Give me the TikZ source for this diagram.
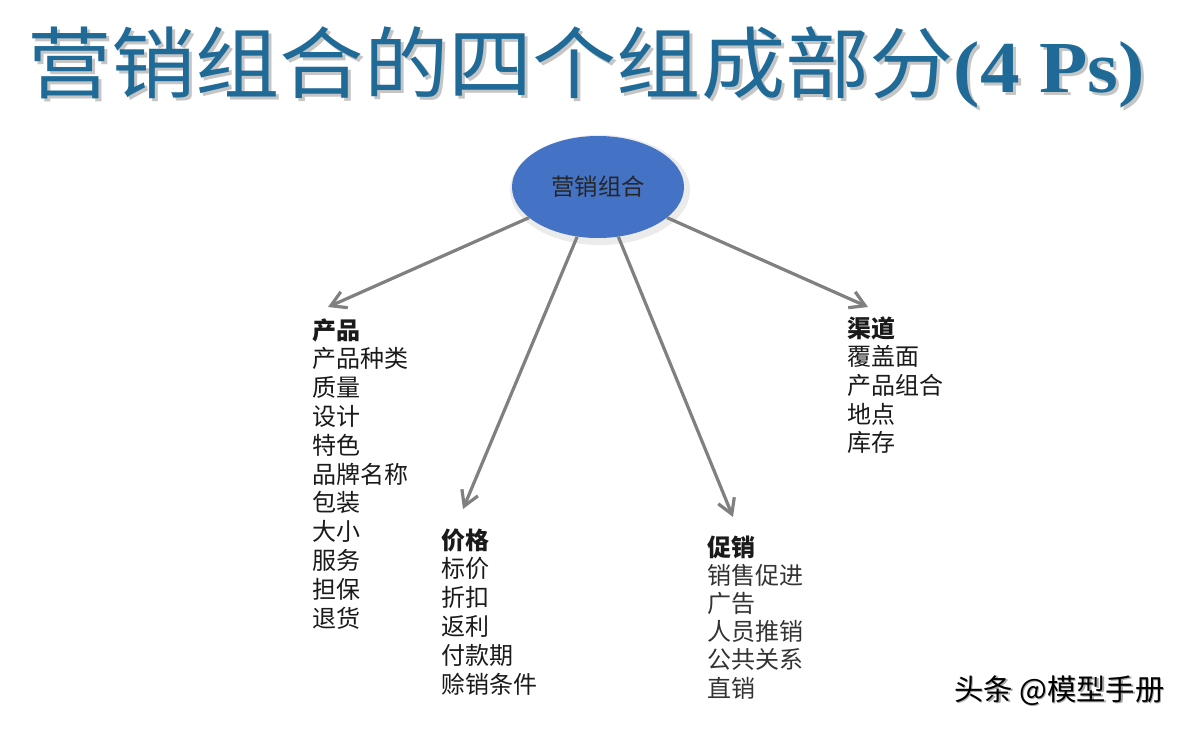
\documentclass[tikz,border=0pt]{standalone}
\usepackage{fontspec}
\usepackage{graphicx}
\usetikzlibrary{arrows.meta,shapes.geometric}
\newfontfamily\cjk{Noto Sans CJK SC}
\newfontfamily\titlelatin{Liberation Serif}
\definecolor{titleblue}{HTML}{1F6A96}
\definecolor{ellblue}{HTML}{4472C4}
\definecolor{arrowgray}{HTML}{808080}
\definecolor{txt}{HTML}{1A1A1A}
\newcommand{\titletext}{\scalebox{1.08}[1]{\cjk\fontsize{58.5pt}{60pt}\selectfont 营销组合的四个组成部分{\titlelatin\bfseries\fontsize{55pt}{57pt}\selectfont (4 Ps)}}}
\tikzset{
  item/.style={anchor=base west, inner sep=0pt, text=txt, font=\cjk\fontsize{18pt}{21pt}\selectfont},
  head/.style={item, font=\cjk\bfseries\fontsize{18pt}{21pt}\selectfont},
  link/.style={draw=arrowgray, line width=2.4pt, -{Straight Barb[length=11pt,width=13pt]}},
}
\begin{document}
\begin{tikzpicture}[x=0.75pt,y=-0.75pt]
\useasboundingbox (0,0) rectangle (1194,728);
\fill[white] (0,0) rectangle (1194,728);
% title
\node[anchor=base west, inner sep=0pt, text=black!45, opacity=0.5] (titleshadow) at (30,95) {\titletext};
\node[anchor=base west, inner sep=0pt, text=titleblue] (title) at (27,92) {\titletext};
% ellipse
\fill[black, opacity=0.08] (600,190) ellipse [x radius=90, y radius=55];
\node[ellipse, fill=ellblue, minimum width=129pt, minimum height=76.5pt, inner sep=0pt, font=\cjk\fontsize{17.5pt}{20pt}\selectfont, text=black!85] (mix) at (598,187) {营销组合};
% tips
\coordinate (t1) at (328,307);
\coordinate (t2) at (463,509);
\coordinate (t3) at (733,517);
\coordinate (t4) at (868,307);
\draw[link] (mix) -- (t1);
\draw[link] (mix) -- (t2);
\draw[link] (mix) -- (t3);
\draw[link] (mix) -- (t4);
% product
\node[head] (p0) at (312,339) {产品};
\foreach \t [count=\i] in {产品种类,质量,设计,特色,品牌名称,包装,大小,服务,担保,退货}
  \node[item] (p\i) at (312,339+28.8*\i) {\t};
% price
\node[head] (r0) at (441,549) {价格};
\foreach \t [count=\i] in {标价,折扣,返利,付款期,赊销条件}
  \node[item] (r\i) at (441,549+28.8*\i) {\t};
% promotion
\node[head] (m0) at (707,556) {促销};
\foreach \t [count=\i] in {销售促进,广告,人员推销,公共关系,直销}
  \node[item, text=black!80] (m\i) at (707,556+28.2*\i) {\t};
% place
\node[head] (c0) at (847,337) {渠道};
\foreach \t [count=\i] in {覆盖面,产品组合,地点,库存}
  \node[item] (c\i) at (847,337+28.7*\i) {\t};
% watermark
\node[anchor=base west, inner sep=0pt, text=black!35, font=\cjk\fontsize{22pt}{25pt}\selectfont] (wms) at (955.5,701.5) {头条 @模型手册};
\node[anchor=base west, inner sep=0pt, text=black, font=\cjk\fontsize{22pt}{25pt}\selectfont] (wm) at (954,700) {头条 @模型手册};
\end{tikzpicture}
\end{document}
